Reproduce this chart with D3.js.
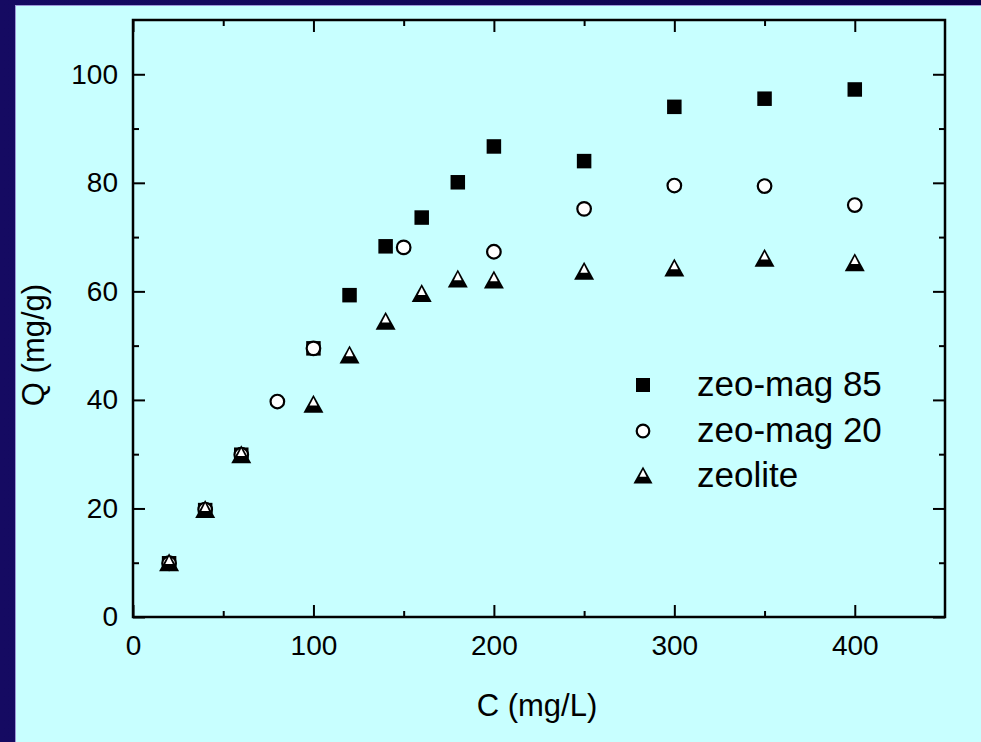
<!DOCTYPE html>
<html>
<head>
<meta charset="utf-8">
<script src="https://cdn.jsdelivr.net/npm/d3@7"></script>
<style>
  html, body { margin: 0; padding: 0; background: #0d004f; }
  svg { display: block; }
  text { font-family: "Liberation Sans", Arial, sans-serif; fill: #000; }
</style>
</head>
<body>
<svg id="chart" width="981" height="742"></svg>
<script>
// ---- data ----
const zeoMag85C = [20, 40, 60, 100, 120, 140, 160, 180, 200, 250, 300, 350, 400];
const zeoMag85Q = [9.9, 19.7, 29.9, 49.5, 59.3, 68.3, 73.6, 80.1, 86.7, 84.0, 94.0, 95.5, 97.2];

const zeoMag20C = [20, 40, 60, 80, 100, 150, 200, 250, 300, 350, 400];
const zeoMag20Q = [9.9, 19.8, 29.9, 39.7, 49.5, 68.1, 67.3, 75.2, 79.5, 79.4, 75.9];

const zeoliteC = [20, 40, 60, 100, 120, 140, 160, 180, 200, 250, 300, 350, 400];
const zeoliteQ = [9.9, 19.7, 29.8, 39.1, 48.2, 54.4, 59.5, 62.2, 62.0, 63.6, 64.2, 66.0, 65.2];

const seriesNames = ["zeo-mag 85", "zeo-mag 20", "zeolite"];
const xMajorTicks = [0, 100, 200, 300, 400];
const xMinorTicks = [50, 150, 250, 350];
const yMajorTicks = [0, 20, 40, 60, 80, 100];
const yMinorTicks = [10, 30, 50, 70, 90];
const xTitle = "C (mg/L)";
const yTitle = "Q (mg/g)";

// ---- layout ----
const svg = d3.select("#chart");
const W = 981, H = 742;
const plot = { left: 133, right: 945, top: 20, bottom: 617 };

const defs = svg.append("defs");
const bg = defs.append("linearGradient").attr("id", "bg").attr("x1", 0).attr("x2", 1).attr("y1", 0).attr("y2", 0);
bg.append("stop").attr("offset", "0%").attr("stop-color", "#150a62");
bg.append("stop").attr("offset", "100%").attr("stop-color", "#0b004a");

svg.append("rect").attr("width", W).attr("height", H).attr("fill", "url(#bg)");
svg.append("rect").attr("x", 15).attr("y", 5).attr("width", W - 15).attr("height", H - 5)
  .attr("fill", "#c8ffff");
svg.append("line").attr("x1", 15).attr("x2", W).attr("y1", 5.5).attr("y2", 5.5)
  .attr("stroke", "#9c98d8").attr("stroke-width", 1);
svg.append("line").attr("x1", 15.5).attr("x2", 15.5).attr("y1", 5).attr("y2", H)
  .attr("stroke", "#9c98d8").attr("stroke-width", 1);

const x = d3.scaleLinear().domain([0, 450]).range([plot.left, plot.right]);
const y = d3.scaleLinear().domain([0, 110]).range([plot.bottom, plot.top]);

function styleAxis(g) {
  g.select(".domain").remove();
  g.selectAll(".tick line").attr("stroke", "#000").attr("stroke-width", 2);
  g.selectAll(".tick text").attr("font-size", 28).attr("fill", "#000")
    .attr("font-family", "'Liberation Sans', Arial, sans-serif");
}

// bottom
svg.append("g").attr("transform", `translate(0,${plot.bottom})`)
  .call(d3.axisBottom(x).tickValues(xMajorTicks).tickSize(-12).tickPadding(18).tickFormat(d3.format("d")))
  .call(styleAxis);
svg.append("g").attr("transform", `translate(0,${plot.bottom})`)
  .call(d3.axisBottom(x).tickValues(xMinorTicks).tickSize(-6).tickFormat(""))
  .call(styleAxis);
// top
svg.append("g").attr("transform", `translate(0,${plot.top})`)
  .call(d3.axisTop(x).tickValues(xMajorTicks).tickSize(-12).tickFormat(""))
  .call(styleAxis);
svg.append("g").attr("transform", `translate(0,${plot.top})`)
  .call(d3.axisTop(x).tickValues(xMinorTicks).tickSize(-6).tickFormat(""))
  .call(styleAxis);
// left
svg.append("g").attr("transform", `translate(${plot.left},0)`)
  .call(d3.axisLeft(y).tickValues(yMajorTicks).tickSize(-12).tickPadding(15).tickFormat(d3.format("d")))
  .call(styleAxis);
svg.append("g").attr("transform", `translate(${plot.left},0)`)
  .call(d3.axisLeft(y).tickValues(yMinorTicks).tickSize(-6).tickFormat(""))
  .call(styleAxis);
// right
svg.append("g").attr("transform", `translate(${plot.right},0)`)
  .call(d3.axisRight(y).tickValues(yMajorTicks).tickSize(-12).tickFormat(""))
  .call(styleAxis);
svg.append("g").attr("transform", `translate(${plot.right},0)`)
  .call(d3.axisRight(y).tickValues(yMinorTicks).tickSize(-6).tickFormat(""))
  .call(styleAxis);

// frame
svg.append("rect")
  .attr("x", plot.left).attr("y", plot.top)
  .attr("width", plot.right - plot.left).attr("height", plot.bottom - plot.top)
  .attr("fill", "none").attr("stroke", "#000").attr("stroke-width", 2.5);

// titles
svg.append("text").attr("x", 537).attr("y", 716).attr("text-anchor", "middle")
  .attr("font-size", 31).text(xTitle);
svg.append("text").attr("transform", "translate(44,345) rotate(-90)").attr("text-anchor", "middle")
  .attr("font-size", 31).text(yTitle);

// ---- marker drawers ----
function drawSquare(g, cx, cy, s) {
  g.append("rect").attr("x", cx - s / 2).attr("y", cy - s / 2).attr("width", s).attr("height", s)
    .attr("fill", "#000");
}
function drawCircle(g, cx, cy, r) {
  g.append("circle").attr("cx", cx).attr("cy", cy).attr("r", r)
    .attr("fill", "#fff").attr("stroke", "#000").attr("stroke-width", 2.2);
}
function drawTriangle(g, cx, cy, hw) {
  const top = cy - hw, bot = cy + hw * 0.8;
  g.append("path").attr("d", `M${cx},${top}L${cx + hw},${bot}L${cx - hw},${bot}Z`).attr("fill", "#000");
  const h = bot - top;
  const iTop = top + 3.2, iBot = top + h * 0.6;
  const ihw = hw * (iBot - top) / h - 2.2;
  g.append("path").attr("d", `M${cx},${iTop}L${cx + ihw},${iBot}L${cx - ihw},${iBot}Z`).attr("fill", "#fff");
}

const marks = svg.append("g");
zeoMag85C.forEach((c, i) => drawSquare(marks, x(c), y(zeoMag85Q[i]), 14.5));
zeoMag20C.forEach((c, i) => drawCircle(marks, x(c), y(zeoMag20Q[i]), 6.8));
zeoliteC.forEach((c, i) => drawTriangle(marks, x(c), y(zeoliteQ[i]), 10));

// ---- legend ----
const lg = svg.append("g");
const legendY = [385, 431, 476];
drawSquare(lg, 643, legendY[0], 14);
drawCircle(lg, 643, legendY[1], 6.3);
drawTriangle(lg, 643, legendY[2], 9.5);
seriesNames.forEach((n, i) => {
  lg.append("text").attr("x", 697).attr("y", legendY[i] + 11).attr("font-size", 35).text(n);
});
</script>
</body>
</html>
